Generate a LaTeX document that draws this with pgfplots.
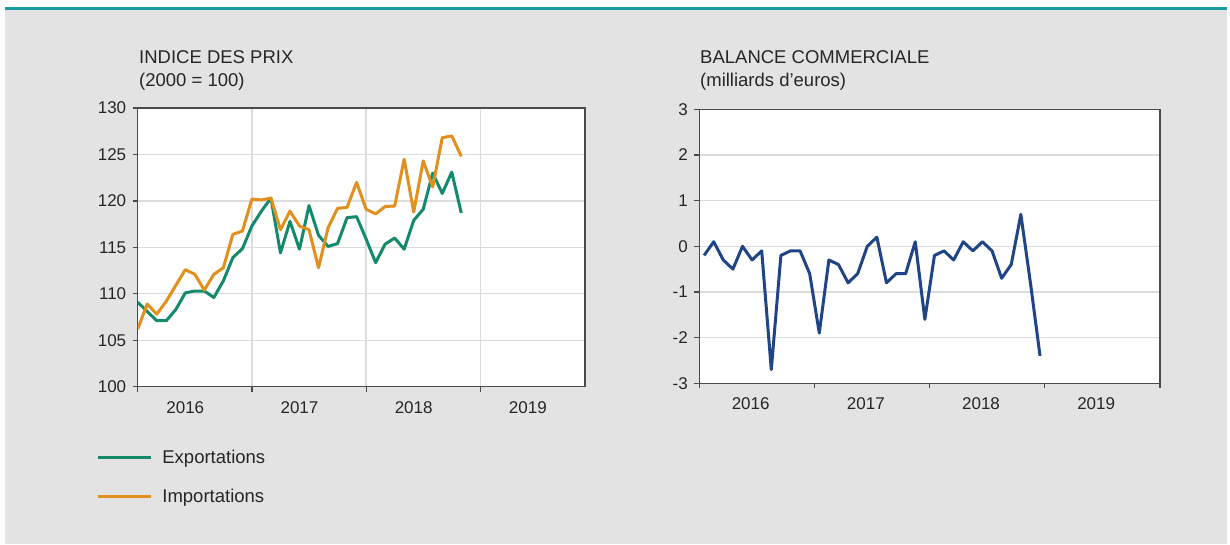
\documentclass[border=0pt]{standalone}
\usepackage{fontspec}
\setmainfont{Liberation Sans}
\usepackage{pgfplots}
\usepackage{pgfplotstable}
\pgfplotsset{compat=1.18}
\definecolor{bg}{HTML}{E3E3E3}
\definecolor{topline}{HTML}{1B9AA0}
\definecolor{expcol}{HTML}{138A6B}
\definecolor{impcol}{HTML}{E1901E}
\definecolor{balcol}{HTML}{1F4586}
\definecolor{gridc}{HTML}{DCDCDC}
\definecolor{axisc}{HTML}{4A4A4A}
\definecolor{txt}{HTML}{262626}

\pgfplotstableread{
m exp imp
0 109.1 106.2
1 108.1 108.9
2 107.1 107.8
3 107.1 109.2
4 108.3 110.9
5 110.1 112.6
6 110.3 112.1
7 110.3 110.4
8 109.6 112.1
9 111.4 112.8
10 113.9 116.4
11 114.85 116.75
12 117.3 120.2
13 118.9 120.1
14 120.3 120.3
15 114.4 116.9
16 117.8 118.9
17 114.8 117.3
18 119.5 116.9
19 116.3 112.8
20 115.1 117.1
21 115.4 119.2
22 118.2 119.3
23 118.3 122.0
24 115.9 119.1
25 113.35 118.6
26 115.35 119.4
27 116.0 119.45
28 114.8 124.5
29 117.9 118.8
30 119.1 124.3
31 123.0 121.5
32 120.8 126.8
33 123.1 127.0
34 118.7 124.8
}\prixtable

\pgfplotstableread{
m bal
0.5 -0.2
1.5 0.1
2.5 -0.3
3.5 -0.5
4.5 0.0
5.5 -0.3
6.5 -0.1
7.5 -2.7
8.5 -0.2
9.5 -0.1
10.5 -0.1
11.5 -0.6
12.5 -1.9
13.5 -0.3
14.5 -0.4
15.5 -0.8
16.5 -0.6
17.5 0.0
18.5 0.2
19.5 -0.8
20.5 -0.6
21.5 -0.6
22.5 0.1
23.5 -1.6
24.5 -0.2
25.5 -0.1
26.5 -0.3
27.5 0.1
28.5 -0.1
29.5 0.1
30.5 -0.1
31.5 -0.7
32.5 -0.4
33.5 0.7
34.5 -0.8
35.5 -2.4
}\baltable

\pgfplotsset{
  common/.style={
    scale only axis,
    axis background/.style={fill=white},
    axis line style={draw=axisc, line width=1.3pt},
    tick style={draw=axisc, line width=1.2pt},
    tick align=outside,
    major tick length=5pt,
    tick pos=left,
    grid style={draw=gridc, line width=1.3pt},
    ymajorgrids,
    tick label style={font=\fontsize{17}{20}\selectfont, text=txt},
    yticklabel style={xshift=-3pt},
    /pgf/number format/assume math mode=true,
    xticklabels={},
    extra x tick style={grid=none, major tick length=0pt, xticklabel style={yshift=-11pt}},
    extra x tick labels={2016,2017,2018,2019},
  }
}

\begin{document}
\begin{tikzpicture}[x=1pt,y=1pt]
\path[use as bounding box] (0,0) rectangle (1230,544);
\fill[white] (0,0) rectangle (1230,544);
\fill[bg] (5,0) rectangle (1227,536.5);
\fill[topline] (5,534) rectangle (1227,536.5);
\coordinate (LA) at (137.7,157.3);
\coordinate (RA) at (699.3,160.7);

\node[anchor=base west, inner sep=0pt, font=\fontsize{18.5}{22}\selectfont, text=txt] at (139,480.7) {INDICE DES PRIX};
\node[anchor=base west, inner sep=0pt, font=\fontsize{18.5}{22}\selectfont, text=txt] at (139,457.5) {(2000 = 100)};
\node[anchor=base west, inner sep=0pt, font=\fontsize{18.5}{22}\selectfont, text=txt] at (700,480.7) {BALANCE COMMERCIALE};
\node[anchor=base west, inner sep=0pt, font=\fontsize{18.5}{22}\selectfont, text=txt] at (700,457.5) {(milliards d’euros)};

\begin{axis}[common,
  at={(LA)}, anchor=south west,
  width=447.3pt, height=278.7pt,
  xmin=0, xmax=47, ymin=100, ymax=130,
  ytick={100,105,...,130},
  xtick={0,12,24,36},
  xmajorgrids,
  extra x ticks={5,17,29,41},
  legend style={draw=none, fill=none, inner sep=0pt,
    at={(-41.2pt,-61.4pt)}, anchor=north west,
    font=\fontsize{18.5}{22}\selectfont, text=txt, row sep=19.5pt,
    cells={anchor=west},
    /tikz/every odd column/.append style={column sep=7.7pt}},
  legend image code/.code={\draw[#1, line width=3pt] (0pt,0pt) -- (53pt,0pt);},
]
\addplot[expcol, line width=3pt, line join=round] table[x=m, y=exp] {\prixtable};
\addlegendentry{Exportations}
\addplot[impcol, line width=3pt, line join=round] table[x=m, y=imp] {\prixtable};
\addlegendentry{Importations}
\end{axis}

\begin{axis}[common,
  at={(RA)}, anchor=south west,
  width=460.7pt, height=274pt,
  xmin=0, xmax=48, ymin=-3, ymax=3,
  ytick={-3,-2,...,3},
  xtick={0,12,24,36,48},
  extra x ticks={5.35,17.35,29.35,41.35},
]
\addplot[balcol, line width=3pt, line join=round] table[x=m, y=bal] {\baltable};
\end{axis}
\end{tikzpicture}
\end{document}
